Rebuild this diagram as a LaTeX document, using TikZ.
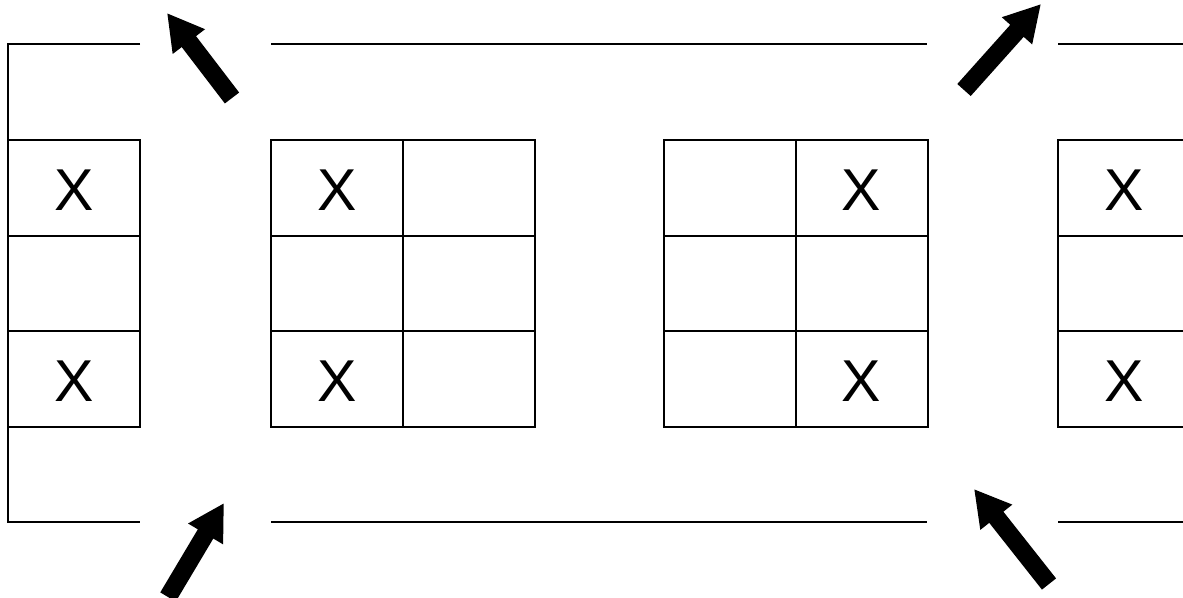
\documentclass[tikz,border=0pt]{standalone}
\usepackage{fontspec}
\setmainfont{Liberation Sans}
\usepackage{tikz}
\usetikzlibrary{arrows.meta}

\tikzset{
  cell/.style={draw, line width=1.4pt, minimum width=3.3cm, minimum height=2.39cm, inner sep=0pt},
  xmark/.style={font=\fontsize{42}{44}\selectfont, inner sep=0pt, yshift=-0.06cm},
  edge/.style={line width=1.4pt},
  bigarrow/.style={line width=0.45cm, -{Triangle[length=0.9cm, width=0.95cm]}}
}

\begin{document}
\begin{tikzpicture}[x=0.025cm, y=-0.025cm]
    \useasboundingbox (0,0) rectangle (1183,598);
    % road edges
    \draw[edge] (140,44) -- (8,44) -- (8,522) -- (140,522);
    \draw[edge] (271,44) -- (927,44);
    \draw[edge] (271,522) -- (927,522);
    \draw[edge] (1058,44) -- (1200,44);
    \draw[edge] (1058,522) -- (1200,522);
    % parking bays
    \foreach \col/\cx in {L/74, A/337, B/469, C/730, D/861.5, R/1124}
        \foreach \row/\cy in {1/188, 2/283.5, 3/379}
            \node[cell] (\col\row) at (\cx,\cy) {};
    \foreach \c in {L1, L3, A1, A3, D1, D3, R1, R3}
        \node[xmark] (x\c) at (\c) {X};
    % direction arrows
    \coordinate (tl-tail) at (232,98);
    \coordinate (tl-tip) at (167,13);
    \coordinate (tr-tail) at (964,90);
    \coordinate (tr-tip) at (1041,4);
    \coordinate (bl-tail) at (168,597);
    \coordinate (bl-tip) at (224,503);
    \coordinate (br-tail) at (1049,584);
    \coordinate (br-tip) at (974,489);
    \draw[bigarrow] (tl-tail) -- (tl-tip);
    \draw[bigarrow] (tr-tail) -- (tr-tip);
    \draw[bigarrow] (bl-tail) -- (bl-tip);
    \draw[bigarrow] (br-tail) -- (br-tip);
\end{tikzpicture}
\end{document}
